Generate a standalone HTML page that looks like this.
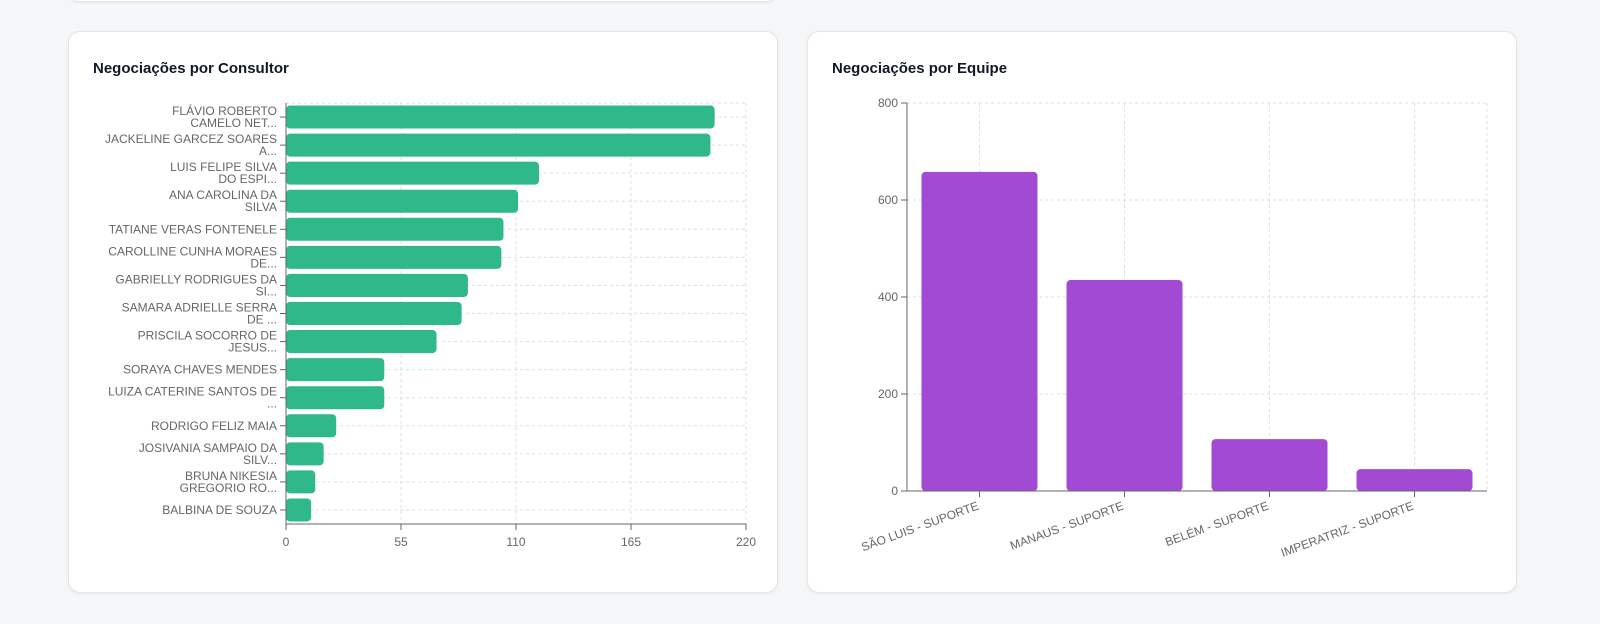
<!DOCTYPE html>
<html><head><meta charset="utf-8"><style>
body{margin:0;width:1600px;height:624px;background:#f5f6f8;font-family:"Liberation Sans",sans-serif;position:relative;overflow:hidden}
.card{position:absolute;background:#fff;border:1px solid #e3e5e8;border-radius:12px;box-shadow:0 1px 3px rgba(0,0,0,.06)}
.title{position:absolute;left:24px;top:28px;font-size:15px;font-weight:bold;color:#111827}
svg{position:absolute;left:0;top:0}
text{font-family:"Liberation Sans",sans-serif;font-size:12px;fill:#666}
</style></head><body>
<div class="card" style="left:68px;top:-20px;width:708px;height:20px"></div>
<div class="card" style="left:68px;top:31px;width:708px;height:560px"><div class="title">Negociações por Consultor</div></div>
<div class="card" style="left:807px;top:31px;width:708px;height:560px"><div class="title">Negociações por Equipe</div></div>
<svg id="s" width="1600" height="624"></svg>
<script>
const consultants=[["FLÁVIO ROBERTO","CAMELO NET..."],["JACKELINE GARCEZ SOARES","A..."],["LUIS FELIPE SILVA","DO ESPI..."],["ANA CAROLINA DA","SILVA"],["TATIANE VERAS FONTENELE"],["CAROLLINE CUNHA MORAES","DE..."],["GABRIELLY RODRIGUES DA","SI..."],["SAMARA ADRIELLE SERRA","DE ..."],["PRISCILA SOCORRO DE","JESUS..."],["SORAYA CHAVES MENDES"],["LUIZA CATERINE SANTOS DE","..."],["RODRIGO FELIZ MAIA"],["JOSIVANIA SAMPAIO DA","SILV..."],["BRUNA NIKESIA","GREGORIO RO..."],["BALBINA DE SOUZA"]];
const consultantValues=[205,203,121,111,104,103,87,84,72,47,47,24,18,14,12];
const xTicks=[0,55,110,165,220];
const teams=["SÃO LUIS - SUPORTE","MANAUS - SUPORTE","BELÉM - SUPORTE","IMPERATRIZ - SUPORTE"];
const teamValues=[658,435,107,45];
const yTicks=[0,200,400,600,800];
const s=document.getElementById('s');const NS='http://www.w3.org/2000/svg';
function el(t,a,txt){const e=document.createElementNS(NS,t);for(const k in a)e.setAttribute(k,a[k]);if(txt!==undefined)e.textContent=txt;s.appendChild(e);return e;}
// left chart
const L={x0:286,x1:746,y0:103,y1:524};
const xs=v=>L.x0+v/220*(L.x1-L.x0);
const band=(L.y1-L.y0)/consultants.length;
xTicks.forEach(t=>{const g=el('line',{x1:xs(t),x2:xs(t),y1:L.y0,y2:L.y1,stroke:'#ddd','stroke-dasharray':'3 3'});
const tk=el('line',{x1:xs(t),x2:xs(t),y1:L.y1,y2:L.y1+6,stroke:'#666'});
const tl=el('text',{x:xs(t),y:L.y1+22,'text-anchor':'middle'},t);});
el('line',{x1:L.x0,x2:L.x1,y1:L.y0,y2:L.y0,stroke:'#ddd','stroke-dasharray':'3 3'});
consultants.forEach((c,i)=>{const cy=L.y0+band*(i+.5);
const g=el('line',{x1:L.x0,x2:L.x1,y1:cy,y2:cy,stroke:'#ddd','stroke-dasharray':'3 3'});
const r=el('rect',{x:L.x0,y:cy-band*0.41,width:xs(consultantValues[i])-L.x0,height:band*0.82,rx:4,fill:'#2fb98a'});
const tk=el('line',{x1:L.x0-6,x2:L.x0,y1:cy,y2:cy,stroke:'#666'});
const t=el('text',{x:L.x0-9,y:c.length>1?cy-2:cy+4,'text-anchor':'end'});
c.forEach((ln,j)=>{const ts=document.createElementNS(NS,'tspan');ts.setAttribute('x',L.x0-9);if(j)ts.setAttribute('dy',12);ts.textContent=ln;t.appendChild(ts);});});
el('line',{x1:L.x0,x2:L.x0,y1:L.y0,y2:L.y1,stroke:'#666'});el('line',{x1:L.x0,x2:L.x1,y1:L.y1,y2:L.y1,stroke:'#666'});
// right chart
const R={x0:907,x1:1487,y0:103,y1:491};
const ys=v=>R.y1-v/800*(R.y1-R.y0);
const bw=(R.x1-R.x0)/teams.length;
yTicks.forEach(t=>{const g=el('line',{x1:R.x0,x2:R.x1,y1:ys(t),y2:ys(t),stroke:'#ddd','stroke-dasharray':'3 3'});
const tk=el('line',{x1:R.x0-6,x2:R.x0,y1:ys(t),y2:ys(t),stroke:'#666'});
const tl=el('text',{x:R.x0-9,y:ys(t)+4,'text-anchor':'end'},t);});
el('line',{x1:R.x1,x2:R.x1,y1:R.y0,y2:R.y1,stroke:'#ddd','stroke-dasharray':'3 3'});
teams.forEach((n,i)=>{const cx=R.x0+bw*(i+.5);
const g=el('line',{x1:cx,x2:cx,y1:R.y0,y2:R.y1,stroke:'#ddd','stroke-dasharray':'3 3'});
const r=el('rect',{x:cx-bw*0.4,y:ys(teamValues[i]),width:bw*0.8,height:R.y1-ys(teamValues[i]),rx:4,fill:'#a24ad3'});
const tk=el('line',{x1:cx,x2:cx,y1:R.y1,y2:R.y1+6,stroke:'#666'});
const t=el('text',{x:cx,y:R.y1+18,'text-anchor':'end',transform:`rotate(-20 ${cx} ${R.y1+18})`},n);});
el('line',{x1:R.x0,x2:R.x0,y1:R.y0,y2:R.y1,stroke:'#666'});el('line',{x1:R.x0,x2:R.x1,y1:R.y1,y2:R.y1,stroke:'#666'});
</script>
</body></html>
